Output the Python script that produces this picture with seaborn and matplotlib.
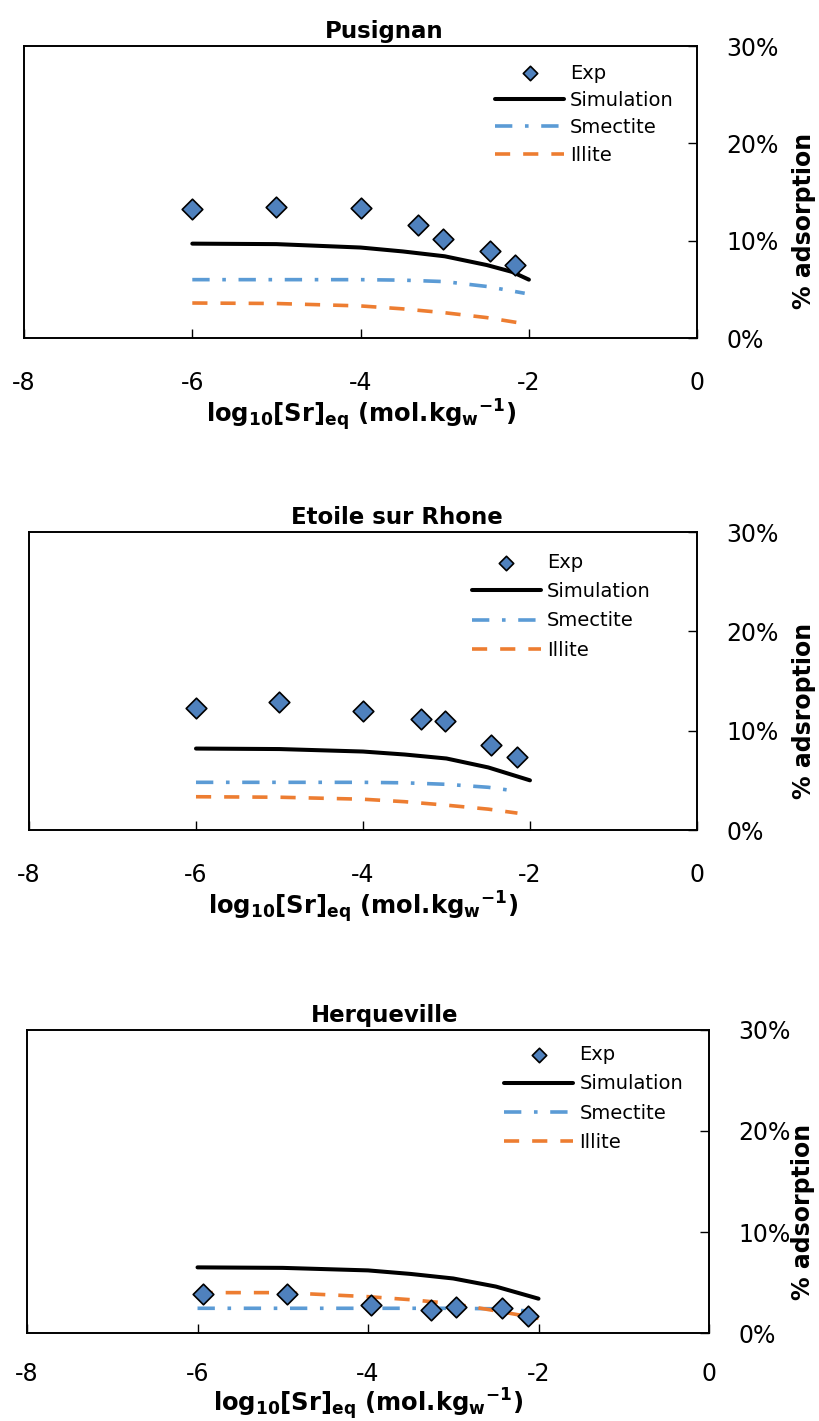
import numpy as np
import pandas as pd
import matplotlib.pyplot as plt
import seaborn as sns
from matplotlib.ticker import FuncFormatter

# Données (x = log10[Sr]eq, y = % adsorption)
titles = ["Pusignan", "Etoile sur Rhone", "Herqueville"]
ylabels = ["% adsorption", "% adsroption", "% adsorption"]

pus_exp_x = [-6.0, -5.0, -4.0, -3.32, -3.02, -2.46, -2.16]
pus_exp_y = [13.3, 13.5, 13.4, 11.6, 10.2, 8.9, 7.5]
pus_sim_x = [-6.0, -5.0, -4.0, -3.5, -3.0, -2.5, -2.2, -2.0]
pus_sim_y = [9.7, 9.65, 9.3, 8.9, 8.4, 7.5, 6.8, 6.0]
pus_sme_x = [-6.0, -5.0, -4.0, -3.5, -3.0, -2.5, -2.05]
pus_sme_y = [6.0, 6.0, 6.0, 5.95, 5.8, 5.3, 4.6]
pus_ill_x = [-6.0, -5.0, -4.0, -3.5, -3.0, -2.5, -2.0]
pus_ill_y = [3.6, 3.55, 3.3, 3.0, 2.6, 2.1, 1.4]

eto_exp_x = [-6.0, -5.0, -4.0, -3.31, -3.02, -2.47, -2.16]
eto_exp_y = [12.3, 12.9, 12.0, 11.2, 11.0, 8.6, 7.4]
eto_sim_x = [-6.0, -5.0, -4.0, -3.5, -3.0, -2.5, -2.0]
eto_sim_y = [8.2, 8.15, 7.9, 7.6, 7.2, 6.3, 5.0]
eto_sme_x = [-6.0, -5.0, -4.0, -3.5, -3.0, -2.5, -2.15]
eto_sme_y = [4.8, 4.8, 4.8, 4.75, 4.6, 4.3, 3.9]
eto_ill_x = [-6.0, -5.0, -4.0, -3.5, -3.0, -2.5, -2.15]
eto_ill_y = [3.35, 3.3, 3.1, 2.85, 2.5, 2.1, 1.7]

her_exp_x = [-5.94, -4.95, -3.96, -3.26, -2.97, -2.43, -2.12]
her_exp_y = [3.9, 3.9, 2.8, 2.3, 2.6, 2.5, 1.7]
her_sim_x = [-6.0, -5.0, -4.0, -3.5, -3.0, -2.5, -2.0]
her_sim_y = [6.5, 6.45, 6.2, 5.85, 5.4, 4.6, 3.4]
her_sme_x = [-6.0, -5.0, -4.0, -3.5, -3.0, -2.5, -2.15]
her_sme_y = [2.45, 2.45, 2.45, 2.45, 2.45, 2.4, 2.2]
her_ill_x = [-6.0, -5.0, -4.0, -3.5, -3.0, -2.5, -2.0]
her_ill_y = [4.0, 4.0, 3.6, 3.3, 2.9, 2.2, 1.45]

x_ticks = [-8, -6, -4, -2, 0]
y_ticks = [0, 10, 20, 30]

data = [
    (pus_exp_x, pus_exp_y, pus_sim_x, pus_sim_y, pus_sme_x, pus_sme_y, pus_ill_x, pus_ill_y),
    (eto_exp_x, eto_exp_y, eto_sim_x, eto_sim_y, eto_sme_x, eto_sme_y, eto_ill_x, eto_ill_y),
    (her_exp_x, her_exp_y, her_sim_x, her_sim_y, her_sme_x, her_sme_y, her_ill_x, her_ill_y),
]

# mise en page (fractions de la figure)
rects = [[0.0293, 0.7621, 0.822, 0.2055],
         [0.0354, 0.4159, 0.8156, 0.2097],
         [0.0330, 0.0619, 0.8327, 0.2133]]
title_x = [0.535, 0.551, 0.525]
ylab_x = [1.158, 1.160, 1.138]
leg_anchor = [(0.70, 0.94), (0.663, 0.93), (0.70, 0.95)]
leg_spacing = [0.43, 0.53, 0.53]
xtick_pad = [24, 24, 21]
xlab_pad = [1, 1, 0]

sns.set_style("white")
plt.rcParams['font.family'] = ['DejaVu Sans']
plt.rcParams['axes.unicode_minus'] = False
plt.rcParams['text.color'] = 'black'
plt.rcParams['axes.labelcolor'] = 'black'

fig = plt.figure(figsize=(8.19, 14.21), dpi=100)

for i in range(3):
    ex, ey, sx, sy, mx, my, ix, iy = data[i]
    ax = fig.add_axes(rects[i])

    sns.lineplot(x=sx, y=sy, ax=ax, color='black', lw=2.9,
                 label='Simulation', errorbar=None)
    sns.lineplot(x=mx, y=my, ax=ax, color='#5B9BD5', lw=2.6,
                 linestyle=(0, (4.8, 3.5, 1, 3.5)), label='Smectite', errorbar=None)
    sns.lineplot(x=ix, y=iy, ax=ax, color='#ED7D31', lw=2.6,
                 linestyle=(0, (4.2, 3.6)), label='Illite', errorbar=None)
    sns.scatterplot(x=ex, y=ey, ax=ax, marker='D', s=110, color='#4F81BD',
                    edgecolor='black', linewidth=1.2, zorder=5, label='Exp')

    ax.set_xlim(-8, 0)
    ax.set_ylim(0, 30)
    ax.set_xticks(x_ticks)
    ax.set_yticks(y_ticks)
    ax.yaxis.set_major_formatter(FuncFormatter(lambda v, p: '%d%%' % v))

    for s in ax.spines.values():
        s.set_color('black')
        s.set_linewidth(1.4)

    ax.yaxis.tick_right()
    ax.tick_params(axis='y', direction='in', length=6.5, width=1, pad=21,
                   labelsize=17, right=True, left=False, colors='black')
    ax.tick_params(axis='x', direction='in', length=6.5, width=1, pad=xtick_pad[i],
                   labelsize=17, bottom=True, top=False, colors='black')

    ax.set_xlabel(r'log$_{\mathbf{10}}$[Sr]$_{\mathbf{eq}}$ (mol.kg$_{\mathbf{w}}{}^{\mathbf{-1}}$)',
                  fontsize=17.5, fontweight='bold', labelpad=xlab_pad[i])
    ax.yaxis.set_label_position('right')
    ax.set_ylabel(ylabels[i], fontsize=17, fontweight='bold', rotation=90,
                  va='center', ha='center')
    ax.yaxis.set_label_coords(ylab_x[i], 0.40)

    ax.text(title_x[i], 1.01, titles[i], transform=ax.transAxes,
            ha='center', va='bottom', fontsize=16.5, fontweight='bold')

    # légende dans l'ordre Exp, Simulation, Smectite, Illite
    h, l = ax.get_legend_handles_labels()
    order = [l.index(n) for n in ['Exp', 'Simulation', 'Smectite', 'Illite']]
    ax.legend([h[k] for k in order], [l[k] for k in order],
              loc='upper left', bbox_to_anchor=leg_anchor[i], frameon=False,
              fontsize=14, handlelength=3.55, handletextpad=0.3,
              labelspacing=leg_spacing[i], borderpad=0, borderaxespad=0,
              markerscale=0.7)

plt.savefig('out.png', dpi=100)
